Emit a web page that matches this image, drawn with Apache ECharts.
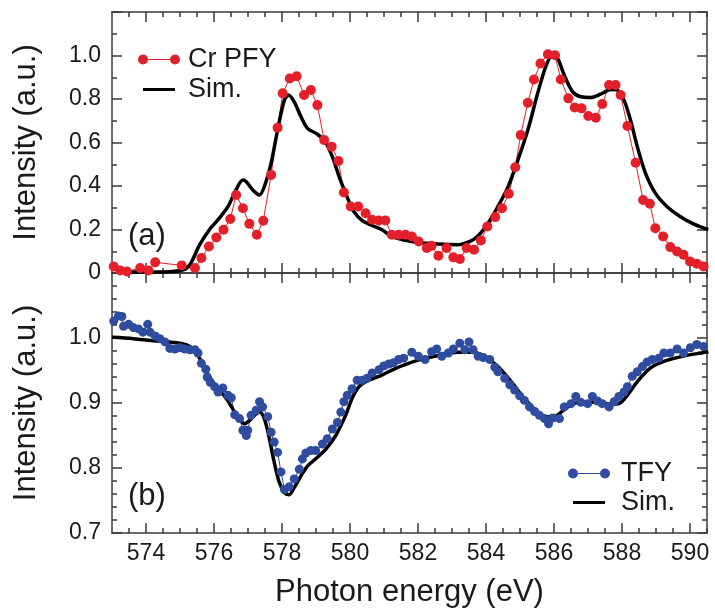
<!DOCTYPE html>
<html>
<head>
<meta charset="utf-8">
<script src="https://cdn.jsdelivr.net/npm/echarts@6/dist/echarts.min.js"></script>
<style>
  html, body { margin: 0; padding: 0; background: #fff; }
  #chart { width: 715px; height: 611px; }
</style>
</head>
<body>
<div id="chart"></div>
<script>
// (a) Cr PFY, measured points
var pfyE = [573.05, 573.24, 573.44, 573.83, 574.07, 574.27, 575.05, 575.44, 575.63, 575.85,
  576.07, 576.28, 576.48, 576.65, 576.85, 577.04, 577.26, 577.45, 577.68, 577.87,
  578.02, 578.23, 578.43, 578.65, 578.85, 579.04, 579.24, 579.46, 579.66, 579.82,
  580.02, 580.24, 580.46, 580.65, 580.85, 581.04, 581.23, 581.43, 581.63, 581.82,
  582.02, 582.26, 582.40, 582.60, 582.84, 583.04, 583.23, 583.43, 583.65, 583.85,
  584.04, 584.27, 584.47, 584.67, 584.86, 585.02, 585.23, 585.41, 585.60, 585.82,
  586.03, 586.20, 586.42, 586.61, 586.81, 587.01, 587.23, 587.42, 587.62, 587.81,
  587.96, 588.16, 588.40, 588.62, 588.82, 588.98, 589.21, 589.42, 589.62, 589.81,
  590.00, 590.20, 590.40];
var pfyI = [0.030, 0.012, 0.007, 0.023, 0.012, 0.049, 0.035, 0.023, 0.069, 0.122,
  0.163, 0.199, 0.248, 0.359, 0.298, 0.226, 0.176, 0.240, 0.451, 0.668,
  0.826, 0.894, 0.905, 0.818, 0.841, 0.772, 0.611, 0.581, 0.515, 0.370,
  0.306, 0.306, 0.275, 0.245, 0.241, 0.241, 0.176, 0.176, 0.176, 0.168,
  0.145, 0.115, 0.125, 0.079, 0.115, 0.072, 0.064, 0.115, 0.107, 0.150,
  0.214, 0.257, 0.298, 0.364, 0.486, 0.634, 0.783, 0.890, 0.963, 1.006,
  1.001, 0.890, 0.803, 0.761, 0.757, 0.722, 0.714, 0.777, 0.864, 0.864,
  0.818, 0.676, 0.507, 0.336, 0.318, 0.206, 0.168, 0.119, 0.099, 0.084,
  0.053, 0.043, 0.030];

// (a) simulation
var simAE = [573.25, 574.5, 575.1, 575.29, 575.58, 575.87, 576.12, 576.41, 576.6, 576.85,
  576.95, 577.14, 577.34, 577.48, 577.68, 577.87, 578.07, 578.19, 578.36, 578.56,
  578.75, 579.0, 579.24, 579.48, 579.68, 579.87, 580.11, 580.36, 580.6, 580.94,
  581.23, 581.63, 582.01, 582.6, 583.18, 583.53, 583.77, 584.06, 584.35, 584.65,
  584.94, 585.23, 585.52, 585.77, 585.96, 586.11, 586.3, 586.55, 586.79, 587.08,
  587.37, 587.67, 587.86, 588.06, 588.25, 588.45, 588.69, 588.98, 589.32, 589.71,
  590.1, 590.54];
var simAI = [0.005, 0.005, 0.015, 0.038, 0.13, 0.20, 0.245, 0.305, 0.367, 0.428,
  0.42, 0.382, 0.359, 0.397, 0.505, 0.657, 0.795, 0.818, 0.787, 0.718,
  0.665, 0.642, 0.611, 0.535, 0.443, 0.367, 0.283, 0.241, 0.222, 0.199,
  0.168, 0.15, 0.14, 0.133, 0.13, 0.145, 0.171, 0.229, 0.305, 0.397,
  0.52, 0.657, 0.826, 0.955, 1.0, 0.986, 0.91, 0.833, 0.81, 0.807,
  0.822, 0.844, 0.841, 0.795, 0.703, 0.581, 0.459, 0.367, 0.306, 0.26,
  0.226, 0.199];

// (b) TFY, measured points
var tfyE = [573.05, 573.19, 573.29, 573.34, 573.49, 573.63, 573.78, 573.91, 574.05, 574.12,
  574.27, 574.41, 574.56, 574.70, 574.85, 575.00, 575.14, 575.29, 575.44, 575.53,
  575.63, 575.76, 575.80, 575.89, 576.02, 576.12, 576.26, 576.41, 576.51, 576.61,
  576.75, 576.85, 576.95, 576.99, 577.09, 577.24, 577.34, 577.43, 577.58, 577.68,
  577.77, 577.87, 577.97, 578.07, 578.21, 578.36, 578.51, 578.60, 578.70, 578.85,
  578.99, 579.19, 579.33, 579.48, 579.63, 579.73, 579.82, 579.92, 580.06, 580.21,
  580.36, 580.50, 580.65, 580.85, 580.99, 581.14, 581.28, 581.43, 581.58, 581.82,
  582.01, 582.21, 582.40, 582.55, 582.70, 582.89, 583.04, 583.23, 583.38, 583.50,
  583.62, 583.77, 583.92, 584.11, 584.26, 584.35, 584.55, 584.70, 584.84, 584.99,
  585.13, 585.28, 585.43, 585.57, 585.72, 585.84, 585.96, 586.16, 586.30, 586.50,
  586.64, 586.79, 586.99, 587.13, 587.28, 587.42, 587.62, 587.77, 587.91, 588.06,
  588.16, 588.30, 588.45, 588.60, 588.74, 588.89, 589.08, 589.23, 589.42, 589.62,
  589.81, 590.01, 590.20, 590.40];
var tfyI = [1.026, 1.034, 1.033, 1.018, 1.021, 1.016, 1.014, 1.009, 1.021, 1.009,
  1.003, 0.999, 0.994, 0.984, 0.983, 0.985, 0.983, 0.982, 0.982, 0.977,
  0.961, 0.952, 0.940, 0.932, 0.925, 0.917, 0.923, 0.912, 0.908, 0.882,
  0.876, 0.858, 0.850, 0.858, 0.881, 0.889, 0.902, 0.894, 0.879, 0.855,
  0.840, 0.824, 0.794, 0.767, 0.771, 0.783, 0.798, 0.814, 0.823, 0.827,
  0.827, 0.837, 0.845, 0.860, 0.870, 0.886, 0.902, 0.912, 0.922, 0.935,
  0.935, 0.938, 0.946, 0.951, 0.957, 0.960, 0.962, 0.967, 0.969, 0.978,
  0.972, 0.967, 0.979, 0.983, 0.972, 0.977, 0.983, 0.992, 0.982, 0.994,
  0.982, 0.972, 0.970, 0.967, 0.955, 0.948, 0.938, 0.928, 0.920, 0.911,
  0.904, 0.894, 0.887, 0.881, 0.876, 0.868, 0.877, 0.876, 0.894, 0.899,
  0.910, 0.901, 0.899, 0.910, 0.903, 0.899, 0.894, 0.902, 0.910, 0.917,
  0.925, 0.941, 0.948, 0.956, 0.963, 0.967, 0.969, 0.977, 0.977, 0.983,
  0.977, 0.985, 0.990, 0.987];

// (b) simulation
var simBE = [573.0, 573.63, 574.41, 575.09, 575.29, 575.49, 575.68, 575.87, 576.07, 576.36,
  576.61, 576.75, 576.90, 577.04, 577.19, 577.34, 577.48, 577.63, 577.77, 577.92,
  578.07, 578.21, 578.36, 578.56, 578.75, 578.99, 579.29, 579.58, 579.87, 580.06,
  580.26, 580.55, 580.94, 581.33, 581.72, 582.01, 582.60, 583.18, 583.57, 583.96,
  584.35, 584.74, 585.13, 585.52, 585.82, 586.01, 586.21, 586.50, 586.79, 587.28,
  587.67, 587.91, 588.16, 588.45, 588.84, 589.23, 589.71, 590.20, 590.54];
var simBI = [1.001, 0.999, 0.995, 0.991, 0.987, 0.977, 0.958, 0.940, 0.925, 0.907,
  0.886, 0.876, 0.868, 0.873, 0.881, 0.886, 0.876, 0.845, 0.809, 0.778,
  0.762, 0.759, 0.770, 0.788, 0.803, 0.814, 0.829, 0.850, 0.881, 0.907,
  0.925, 0.935, 0.943, 0.953, 0.961, 0.966, 0.973, 0.978, 0.978, 0.972,
  0.956, 0.933, 0.907, 0.886, 0.879, 0.879, 0.886, 0.897, 0.901, 0.901,
  0.898, 0.899, 0.912, 0.933, 0.954, 0.964, 0.971, 0.976, 0.979];

var xMajor = [574, 576, 578, 580, 582, 584, 586, 588, 590];
var xMinor = [573.5, 574.5, 575, 575.5, 576.5, 577, 577.5, 578.5, 579, 579.5, 580.5, 581,
  581.5, 582.5, 583, 583.5, 584.5, 585, 585.5, 586.5, 587, 587.5, 588.5, 589, 589.5, 590.5];
var yAMajor = [0, 0.2, 0.4, 0.6, 0.8, 1.0, 1.2];
var yALabels = [0, 0.2, 0.4, 0.6, 0.8, 1.0];
var yAMinor = [0.1, 0.3, 0.5, 0.7, 0.9, 1.1];
var yBMajor = [0.7, 0.8, 0.9, 1.0, 1.1];
var yBLabels = [0.7, 0.8, 0.9, 1.0];
var yBMinor = [0.72, 0.74, 0.76, 0.78, 0.82, 0.84, 0.86, 0.88, 0.92, 0.94, 0.96, 0.98,
  1.02, 1.04, 1.06, 1.08];

function pairs(xs, ys) {
  return xs.map(function (x, i) { return [x, ys[i]]; });
}

var FONT = 'Arial, "Liberation Sans", Helvetica, sans-serif';
var AX = '#3a3a3a';
var RED = '#e3202a';
var BLUE = '#2f4c9f';

function xAx(grid, pos, ticks, len, showLine, labels) {
  var a = {
    type: 'value', gridIndex: grid, position: pos, min: 573, max: 590.5,
    splitLine: { show: false },
    axisLine: { show: showLine, onZero: false, lineStyle: { color: AX, width: 1.5 } },
    axisTick: { show: true, inside: true, length: len, customValues: ticks, lineStyle: { color: AX, width: 1.5 } },
    axisLabel: { show: false }
  };
  if (labels) {
    a.axisLabel = { show: true, customValues: labels, margin: 9, fontSize: 23, color: '#1a1a1a', fontFamily: FONT };
    a.name = 'Photon energy (eV)';
    a.nameLocation = 'middle';
    a.nameGap = 44;
    a.nameTextStyle = { fontSize: 31, color: '#1a1a1a', fontFamily: FONT };
  }
  return a;
}

function yAx(grid, pos, min, max, ticks, len, showLine, labels) {
  var a = {
    type: 'value', gridIndex: grid, position: pos, min: min, max: max,
    splitLine: { show: false },
    axisLine: { show: showLine, onZero: false, lineStyle: { color: AX, width: 1.5 } },
    axisTick: { show: true, inside: true, length: len, customValues: ticks, lineStyle: { color: AX, width: 1.5 } },
    axisLabel: { show: false }
  };
  if (labels) {
    a.axisLabel = {
      show: true, customValues: labels, margin: 11, fontSize: 23, color: '#1a1a1a', fontFamily: FONT,
      formatter: function (v) { return v === 0 ? '0' : v.toFixed(1); }
    };
    a.name = 'Intensity (a.u.)';
    a.nameLocation = 'middle';
    a.nameGap = 70;
    a.nameTextStyle = { fontSize: 31, color: '#1a1a1a', fontFamily: FONT };
  }
  return a;
}

var dotsIcon = 'path://M0,5a5,5 0 1,0 10,0a5,5 0 1,0 -10,0zM32,5a5,5 0 1,0 10,0a5,5 0 1,0 -10,0zM10,4.5h22v1h-22z';
var lineIcon = 'path://M0,0h0.01v0.01h-0.01zM41.99,9.99h0.01v0.01h-0.01zM5,3.6h32v2.8h-32z';

var chart = echarts.init(document.getElementById('chart'), null, { renderer: 'canvas' });

var option = {
  animation: false,
  textStyle: { fontFamily: FONT },
  grid: [
    { left: 112, right: 8, top: 12, height: 261 },
    { left: 112, right: 8, top: 273, height: 260 }
  ],
  xAxis: [
    xAx(0, 'bottom', xMajor, 10, true),
    xAx(0, 'bottom', xMinor, 5, false),
    xAx(0, 'top', xMajor, 10, true),
    xAx(0, 'top', xMinor, 5, false),
    xAx(1, 'bottom', xMajor, 10, true, xMajor),
    xAx(1, 'bottom', xMinor, 5, false),
    xAx(1, 'top', xMajor, 10, true),
    xAx(1, 'top', xMinor, 5, false)
  ],
  yAxis: [
    yAx(0, 'left', 0, 1.2, yAMajor, 10, true, yALabels),
    yAx(0, 'left', 0, 1.2, yAMinor, 5, false),
    yAx(0, 'right', 0, 1.2, yAMajor, 10, true),
    yAx(0, 'right', 0, 1.2, yAMinor, 5, false),
    yAx(1, 'left', 0.7, 1.1, yBMajor, 10, true, yBLabels),
    yAx(1, 'left', 0.7, 1.1, yBMinor, 5, false),
    yAx(1, 'right', 0.7, 1.1, yBMajor, 10, true),
    yAx(1, 'right', 0.7, 1.1, yBMinor, 5, false)
  ],
  legend: [
    {
      orient: 'vertical', left: 133, top: 41, itemGap: 3, itemWidth: 42, itemHeight: 10,
      textStyle: { fontSize: 27, color: '#1a1a1a', fontFamily: FONT, padding: [0, 0, 0, 3] },
      data: [{ name: 'Cr PFY', icon: dotsIcon }, { name: 'Sim.', icon: lineIcon }]
    },
    {
      orient: 'vertical', left: 563, top: 455, itemGap: 2, itemWidth: 42, itemHeight: 10,
      textStyle: { fontSize: 27, color: '#1a1a1a', fontFamily: FONT, padding: [0, 0, 0, 6] },
      data: [{ name: 'TFY', icon: dotsIcon }, { name: 'Sim.', icon: lineIcon }]
    }
  ],
  graphic: [
    { type: 'text', left: 128, top: 221, style: { text: '(a)', fontSize: 31, fill: '#1a1a1a', fontFamily: FONT } },
    { type: 'text', left: 128, top: 481, style: { text: '(b)', fontSize: 31, fill: '#1a1a1a', fontFamily: FONT } }
  ],
  series: [
    {
      name: 'Cr PFY', type: 'line', xAxisIndex: 0, yAxisIndex: 0,
      data: pairs(pfyE, pfyI), symbol: 'circle', symbolSize: 10,
      itemStyle: { color: RED }, lineStyle: { color: RED, width: 1 }
    },
    {
      name: 'Sim.', type: 'line', xAxisIndex: 0, yAxisIndex: 0,
      data: pairs(simAE, simAI), showSymbol: false, smooth: 0.3,
      itemStyle: { color: '#000' }, lineStyle: { color: '#000', width: 3.5 }
    },
    {
      name: 'TFY', type: 'line', xAxisIndex: 4, yAxisIndex: 4,
      data: pairs(tfyE, tfyI), symbol: 'circle', symbolSize: 9,
      itemStyle: { color: BLUE }, lineStyle: { color: BLUE, width: 1 }
    },
    {
      name: 'Sim.', type: 'line', xAxisIndex: 4, yAxisIndex: 4,
      data: pairs(simBE, simBI), showSymbol: false, smooth: 0.3,
      itemStyle: { color: '#000' }, lineStyle: { color: '#000', width: 3.5 }
    }
  ]
};

chart.setOption(option);
</script>
</body>
</html>
